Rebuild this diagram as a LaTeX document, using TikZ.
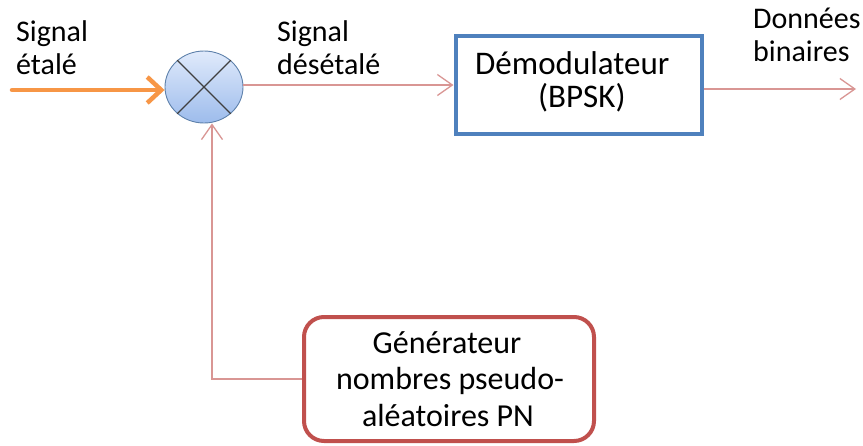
\documentclass[tikz,border=0pt]{standalone}
\usepackage{fontspec}
\setmainfont{Carlito}
\usetikzlibrary{arrows.meta,calc,shapes.geometric}
\definecolor{linkred}{HTML}{D99694}
\definecolor{genred}{HTML}{C0504D}
\definecolor{demblue}{HTML}{4F81BD}
\definecolor{sigorange}{HTML}{F79646}
\definecolor{mixtop}{HTML}{E0EAFB}
\definecolor{mixbot}{HTML}{9DBCEC}
\tikzset{
  label/.style={anchor=base west, inner sep=0pt,
    font=\fontsize{30}{33}\selectfont},
  link/.style={draw=linkred, line width=1.3pt,
    -{Straight Barb[length=15pt,width=21pt,line width=1.3pt]}},
  demtext/.style={anchor=base west, inner sep=0pt, font=\fontsize{33}{38}\selectfont},
  gentext/.style={anchor=base, inner sep=0pt, font=\fontsize{32}{38}\selectfont},
}
\begin{document}
\begin{tikzpicture}[x=1pt,y=-1pt]
\useasboundingbox (0,0) rectangle (863,445);

% mixer
\node (mix) [ellipse, minimum width=78pt, minimum height=72pt, inner sep=0pt,
  draw=demblue!70!gray, line width=0.9pt, top color=mixtop, bottom color=mixbot]
  at (204,87) {};
\draw[black!75, line width=1.1pt] (mix.45) -- (mix.225) (mix.135) -- (mix.315);

% demodulator
\node (demod) [draw=demblue, line width=4pt, minimum width=246pt,
  minimum height=98pt, inner sep=0pt] at (578.5,85) {};
\node (demodA) [demtext] at (475,74) {Démodulateur};
\node (demodB) [demtext] at (538,107) {(BPSK)};

% PN generator
\node (gen) [draw=genred, line width=4pt, rounded corners=20pt,
  minimum width=290pt, minimum height=124pt, inner sep=0pt] at (449,379) {};
\node (genA) [gentext] at (447,353) {Générateur};
\node (genB) [gentext] at (450,389) {nombres pseudo-};
\node (genC) [gentext] at (448,426) {aléatoires PN};

% labels
\node (linA) [label] at (16,41) {Signal};
\node (linB) [label] at (16,74) {étalé};
\node (lmidA) [label] at (277,41) {Signal};
\node (lmidB) [label] at (277,74) {désétalé};
\node (loutA) [label] at (753,28) {Données};
\node (loutB) [label] at (753,61) {binaires};

% connectors
\coordinate (src) at (12,90);
\coordinate (dst) at (856,89);
\draw[sigorange, line width=4.5pt, line cap=round,
  -{Straight Barb[length=14pt,width=26pt,line width=4.5pt]}]
  (src) -- (mix.west |- src);
\draw[link] (mix.east |- demod.west) -- (demod.west);
\draw[link] (demod.east |- dst) -- (dst);
\draw[link] (gen.west) -| ($(mix.south)+(8,0)$);
\end{tikzpicture}
\end{document}
